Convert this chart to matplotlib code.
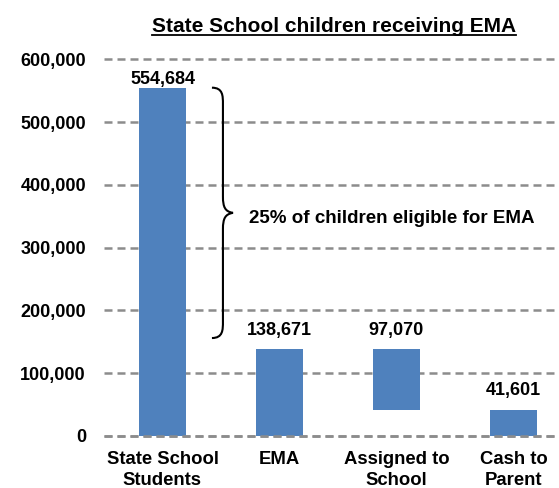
import matplotlib.pyplot as plt
from matplotlib.path import Path
from matplotlib.patches import PathPatch
from matplotlib.lines import Line2D

# chart data
categories = ['State School\nStudents', 'EMA', 'Assigned to\nSchool', 'Cash to\nParent']
values = [554684, 138671, 97070, 41601]
bottoms = [0, 0, 41601, 0]
yticks = [0, 100000, 200000, 300000, 400000, 500000, 600000]
brace_top = 554684
brace_bottom = 156000
note = '25% of children eligible for EMA'

# gap between bar top and label baseline (data units)
label_gap = [6000, 22000, 22000, 23000]

plt.rcParams['font.family'] = 'Liberation Sans'
plt.rcParams['font.weight'] = 'bold'

fig = plt.figure(figsize=(5.59, 4.88), dpi=100)
ax = fig.add_axes([0.186, 0.1066, 0.814, 0.772])

x = range(len(categories))
ax.bar(x, values, bottom=bottoms, width=0.4, color='#4F81BD', zorder=3)

# value labels over bars
for i in x:
    ax.text(i, bottoms[i] + values[i] + label_gap[i], f'{values[i]:,}',
            ha='center', va='baseline', fontsize=13, fontweight='bold')

ax.set_xlim(-0.5, 3.39)
ax.set_ylim(0, 600000)
ax.set_yticks(yticks)
ax.set_yticklabels([f'{v:,}' for v in yticks], fontsize=13, fontweight='bold')
ax.set_xticks(list(x))
ax.set_xticklabels(categories, fontsize=13.3, fontweight='bold', linespacing=1.3)
ax.tick_params(axis='y', length=0, pad=13)
ax.tick_params(axis='x', length=0, pad=11)
for s in ax.spines.values():
    s.set_visible(False)
grid_style = dict(color='#8c8c8c', linestyle=(0, (3.2, 2.0)), linewidth=1.8)
ax.yaxis.grid(True, zorder=0, **grid_style)
ax.set_axisbelow(True)
for gl in ax.get_ygridlines():
    gl.set_clip_on(False)
ax.axhline(0, zorder=4, clip_on=False, **grid_style)

# curly brace
x0, x1, x2 = 0.423, 0.517, 0.603
r = 26000
ymid = (brace_top + brace_bottom) / 2
verts = [(x0, brace_top),
         (x1, brace_top), (x1, brace_top - r / 2), (x1, brace_top - r),
         (x1, ymid + r),
         (x1, ymid + r / 3), (x1 + 0.02, ymid + 2000), (x2, ymid),
         (x1 + 0.02, ymid - 2000), (x1, ymid - r / 3), (x1, ymid - r),
         (x1, brace_bottom + r),
         (x1, brace_bottom + r / 2), (x1, brace_bottom), (x0, brace_bottom)]
codes = [Path.MOVETO,
         Path.CURVE4, Path.CURVE4, Path.CURVE4,
         Path.LINETO,
         Path.CURVE4, Path.CURVE4, Path.CURVE4,
         Path.CURVE4, Path.CURVE4, Path.CURVE4,
         Path.LINETO,
         Path.CURVE4, Path.CURVE4, Path.CURVE4]
ax.add_patch(PathPatch(Path(verts, codes), facecolor='none', edgecolor='black',
                       linewidth=1.5, zorder=4))
ax.text(1.957, 346000, note, ha='center', va='center', fontsize=13.5, fontweight='bold')

# underlined title
title = fig.text(0.598, 0.9344, 'State School children receiving EMA', ha='center', va='baseline',
                 fontsize=15, fontweight='bold')
fig.canvas.draw()
bb = title.get_window_extent().transformed(fig.transFigure.inverted())
uy = 0.9344 - 2.5 / 488
fig.add_artist(Line2D([bb.x0, bb.x1], [uy, uy], color='black', linewidth=1.3,
                      transform=fig.transFigure))

fig.savefig('out.png', dpi=100)
